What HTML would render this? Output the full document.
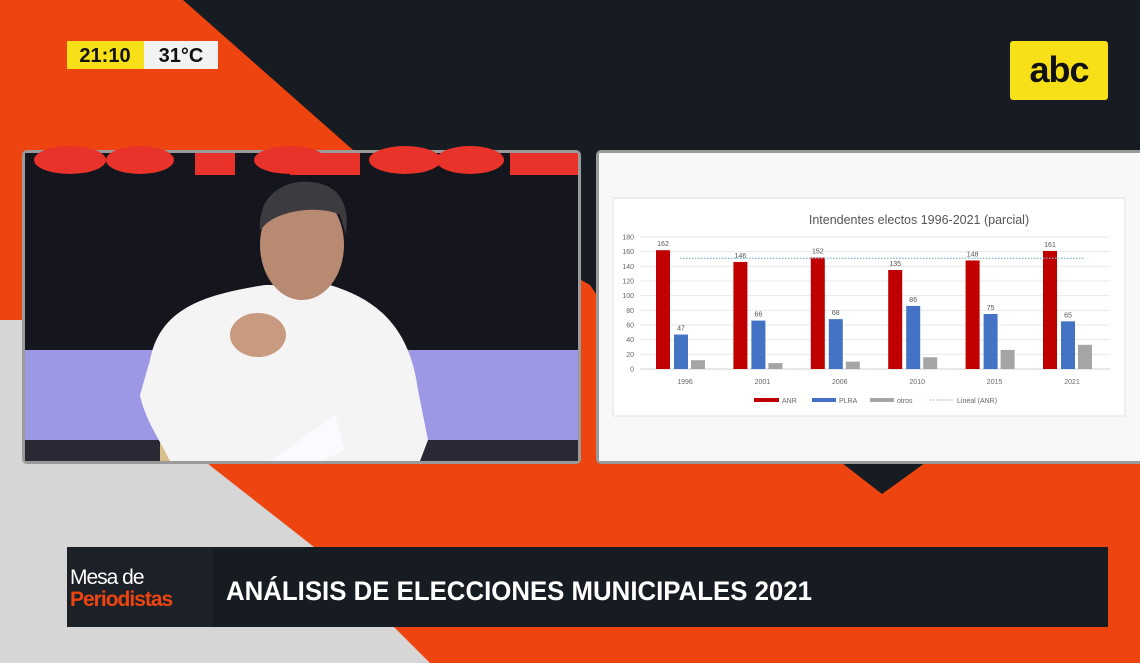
<!DOCTYPE html>
<html><head><meta charset="utf-8"><style>
html,body{margin:0;padding:0;width:1140px;height:663px;overflow:hidden;background:#ee4510}
svg{display:block}
text{font-family:"Liberation Sans",sans-serif}
</style></head><body>
<svg id="scene" width="1140" height="663" viewBox="0 0 1140 663">
  <rect x="0" y="0" width="1140" height="663" fill="#ee4510"/>
  <polygon points="183,0 1140,0 1140,300 600,300 590,285 353,150" fill="#171c23"/>
  <polygon points="0,320 30,320 212,467 314,547 430,663 0,663" fill="#d6d6d6"/>
  <polygon points="842,463 925,463 882,494" fill="#171c23"/>

  <g>
    <rect x="67" y="41" width="77" height="28" fill="#f7e017"/>
    <rect x="144" y="41" width="74" height="28" fill="#f2f2f2"/>
    <text x="105" y="62" text-anchor="middle" font-size="20" font-weight="bold" fill="#111">21:10</text>
    <text x="181" y="62" text-anchor="middle" font-size="20" font-weight="bold" fill="#111">31°C</text>
  </g>

  <g>
    <rect x="1010" y="41" width="98" height="59" rx="3" fill="#f7e017"/>
    <text x="1059" y="82" text-anchor="middle" font-size="36" font-weight="bold" fill="#111" letter-spacing="-1">abc</text>
  </g>

  <g>
    <rect x="22" y="150" width="559" height="314" rx="5" fill="#9a9a9a"/>
    <rect x="25" y="153" width="553" height="308" fill="#15161d"/>
    <rect x="25" y="153" width="553" height="22" fill="#15161d"/>
    <g fill="#e8322a">
      <ellipse cx="70" cy="160" rx="36" ry="14"/><ellipse cx="140" cy="160" rx="34" ry="14"/>
      <rect x="195" y="153" width="40" height="22"/><ellipse cx="290" cy="160" rx="36" ry="14"/>
      <rect x="290" y="153" width="70" height="22"/><ellipse cx="405" cy="160" rx="36" ry="14"/>
      <ellipse cx="470" cy="160" rx="34" ry="14"/><rect x="510" y="153" width="68" height="22"/>
    </g>
    <rect x="25" y="350" width="553" height="90" fill="#9c98e6"/>
    <rect x="25" y="440" width="553" height="21" fill="#2a2a36"/>
    <rect x="160" y="415" width="40" height="46" fill="#d9c08a"/>
    <path d="M150,360 C160,310 200,295 265,285 L330,285 C380,300 410,330 418,390 L428,440 L420,461 L170,461 C160,440 145,420 140,395 Z" fill="#f4f4f4"/>
    <ellipse cx="302" cy="245" rx="42" ry="55" fill="#b98a72"/>
    <path d="M260,230 C258,190 290,180 310,182 C340,184 350,205 346,235 L340,215 C320,205 280,210 265,225 Z" fill="#3c3c40"/>
    <ellipse cx="258" cy="335" rx="28" ry="22" fill="#c89a80"/>
    <polygon points="270,461 335,415 345,450 320,461" fill="#fbfbff"/>
  </g>

  <g>
    <rect x="596" y="150" width="550" height="314" rx="5" fill="#9a9a9a"/>
    <rect x="599" y="153" width="545" height="308" fill="#f8f8f8"/>
    <rect x="613" y="198" width="512" height="218" fill="#ffffff" stroke="#e2e2e2"/>
    <text x="919" y="224" text-anchor="middle" font-size="12.5" fill="#555">Intendentes electos 1996-2021 (parcial)</text>
    <g id="grid"></g>
    <g id="bars"></g>
    <g id="legend">
      <rect x="754" y="398" width="25" height="4" fill="#c00000"/>
      <text x="782" y="403" font-size="7" fill="#666">ANR</text>
      <rect x="812" y="398" width="24" height="4" fill="#4472c4"/>
      <text x="839" y="403" font-size="7" fill="#666">PLRA</text>
      <rect x="870" y="398" width="24" height="4" fill="#a5a5a5"/>
      <text x="897" y="403" font-size="7" fill="#666">otros</text>
      <line x1="930" y1="400" x2="954" y2="400" stroke="#7fb8c8" stroke-dasharray="1.5,1.5"/>
      <text x="957" y="403" font-size="7" fill="#666">Lineal (ANR)</text>
    </g>
  </g>

  <g>
    <rect x="67" y="547" width="1041" height="80" fill="#171b22"/>
    <rect x="67" y="547" width="146" height="80" fill="#1c2027"/>
    <text x="70" y="584" font-size="21" fill="#fff" letter-spacing="-1">Mesa de</text>
    <text x="70" y="606" font-size="21" font-weight="bold" fill="#ee4510" letter-spacing="-1">Periodistas</text>
    <text x="226" y="600" font-size="27" font-weight="bold" fill="#fff" textLength="586" lengthAdjust="spacingAndGlyphs">ANÁLISIS DE ELECCIONES MUNICIPALES 2021</text>
  </g>
</svg>
<script>
const years = ["1996","2001","2006","2010","2015","2021"];
const anr = [162,146,152,135,148,161];
const plra = [47,66,68,86,75,65];
const otros = [12,8,10,16,26,33];
const yTicks = [0,20,40,60,80,100,120,140,160,180];
const trendValue = 151;

const NS = "http://www.w3.org/2000/svg";
const y0 = 369, y180 = 237;
const yScale = v => y0 - (v / 180) * (y0 - y180);
const xFirst = 685, xLast = 1072;
const xScale = i => xFirst + i * (xLast - xFirst) / (years.length - 1);
function mk(tag, attrs, parent, txt) {
  const el = document.createElementNS(NS, tag);
  for (const k in attrs) el.setAttribute(k, attrs[k]);
  if (txt !== undefined) el.textContent = txt;
  parent.appendChild(el);
  return el;
}
const grid = document.getElementById('grid');
yTicks.forEach(t => {
  const l = mk('line', {x1: 640, x2: 1110, y1: yScale(t), y2: yScale(t), stroke: t === 0 ? '#d0d0d0' : '#e8e8e8', 'stroke-width': 1}, grid);
  
  
  const tx = mk('text', {x: 634, y: yScale(t) + 2.5, 'text-anchor': 'end', 'font-size': 7, fill: '#666'}, grid, String(t));
  
  
});
const bars = document.getElementById('bars');
const series = [[anr, '#c00000', -22, true], [plra, '#4472c4', -4, true], [otros, '#a5a5a5', 13, false]];
const bw = 14;
years.forEach((yr, i) => {
  const cx = xScale(i);
  series.forEach(([vals, col, off, lab], s) => {
    const v = vals[i];
    const r = mk('rect', {x: cx + off - bw / 2, y: yScale(v), width: bw, height: y0 - yScale(v), fill: col}, bars);
    
    
    if (lab) {
      const t = mk('text', {x: cx + off, y: yScale(v) - 4, 'text-anchor': 'middle', 'font-size': 7, fill: '#555'}, bars, String(v));
      
      
    }
  });
  const xl = mk('text', {x: cx, y: 384, 'text-anchor': 'middle', 'font-size': 7, fill: '#666'}, bars, yr);
  
  
});
const tl = mk('line', {x1: xScale(0) - 5, x2: xScale(years.length - 1) + 12, y1: yScale(trendValue), y2: yScale(trendValue), stroke: '#7fb8c8', 'stroke-width': 1.2, 'stroke-dasharray': '1.5,1.5'}, bars);


</script>
</body></html>
